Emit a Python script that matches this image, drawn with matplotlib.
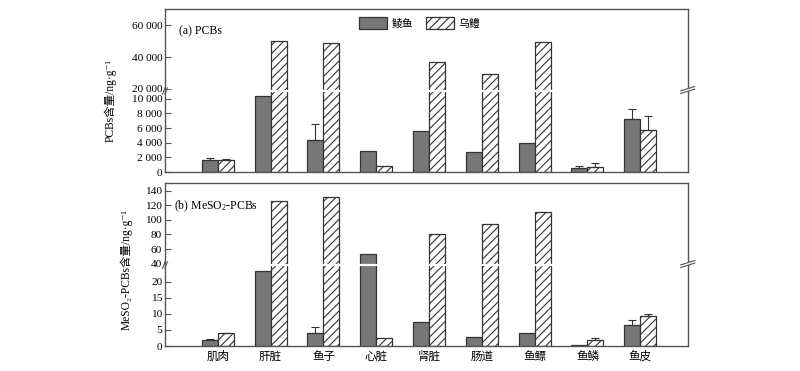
import matplotlib
matplotlib.use("Agg")
import matplotlib.pyplot as plt
from matplotlib.lines import Line2D
from matplotlib.patches import Patch
import numpy as np

plt.rcParams['font.family'] = ['Liberation Serif', 'DejaVu Serif', 'Noto Sans CJK SC']
plt.rcParams['mathtext.fontset'] = 'custom'
plt.rcParams['mathtext.rm'] = 'Liberation Serif'
plt.rcParams['mathtext.it'] = 'Liberation Serif:italic'
plt.rcParams['mathtext.bf'] = 'Liberation Serif:bold'

categories = ['肌肉', '肝脏', '鱼子', '心脏', '肾脏', '肠道', '鱼鳔', '鱼鳞', '鱼皮']
series_names = ['鲮鱼', '乌鳢']

pcb_ling = [1600, 10400, 4400, 2900, 5600, 2700, 3900, 600, 7200]
pcb_ling_err = [300, 0, 2100, 0, 0, 0, 0, 170, 1450]
pcb_wu = [1600, 50100, 49000, 770, 36600, 29000, 49300, 680, 5700]
pcb_wu_err = [200, 0, 0, 0, 0, 0, 0, 550, 1950]

meso_ling = [1.9, 23.3, 4.2, 53.7, 7.4, 2.8, 4.2, 0.3, 6.5]
meso_ling_err = [0.4, 0, 1.8, 0, 0, 0, 0, 0, 1.6]
meso_wu = [4.1, 126.3, 131.8, 2.5, 80.6, 94.3, 111.2, 2.0, 9.2]
meso_wu_err = [0.1, 0, 0, 0, 0, 0, 0, 0.4, 0.8]

pcb_ticks_lo = [0, 2000, 4000, 6000, 8000, 10000]
pcb_ticks_hi = [20000, 40000, 60000]
meso_ticks_lo = [0, 5, 10, 15, 20]
meso_ticks_hi = [40, 60, 80, 100, 120, 140]

W, H = 800, 371
fig = plt.figure(figsize=(W / 100, H / 100), dpi=100)

SPINE = '#555555'
DARK = '#777777'
EDGE = '#333333'
plt.rcParams['hatch.linewidth'] = 0.8
plt.rcParams['hatch.color'] = '#222222'

x0, x1 = 165, 687.7


def fax(top, bottom):
    return fig.add_axes([x0 / W, 1 - bottom / H, (x1 - x0) / W, (bottom - top) / H])


def fmt_thousands(v):
    return f"{int(v):,}".replace(",", " ")


bw = 0.303
xs = np.arange(len(categories))


def draw_bars(ax, a, ae, b, be):
    ax.bar(xs - bw / 2, a, bw, color=DARK, edgecolor=EDGE, linewidth=0.9, zorder=2)
    ax.bar(xs + bw / 2, b, bw, color='white', edgecolor=EDGE, linewidth=0.9,
           hatch='////', zorder=2)
    for off, v, e in ((-bw / 2, a, ae), (bw / 2, b, be)):
        idx = [i for i in range(len(v)) if e[i] > 0]
        if idx:
            ax.errorbar(xs[idx] + off, np.array(v)[idx],
                        yerr=[np.zeros(len(idx)), np.array(e)[idx]],
                        fmt='none', ecolor='#333333', elinewidth=0.8,
                        capsize=2.6, capthick=0.8, zorder=3)
    ax.set_xlim(-1.0, 8.9)


def style(ax, which):
    for s in ax.spines.values():
        s.set_color(SPINE)
        s.set_linewidth(1.0)
    if which == 'hi':
        ax.spines['bottom'].set_visible(False)
    else:
        ax.spines['top'].set_visible(False)
    ax.tick_params(axis='y', direction='in', length=4, width=0.8, color=SPINE,
                   labelsize=8.2, pad=2)
    ax.tick_params(axis='x', length=0)


def panel(top, mid, bottom, hi_lim, lo_lim, hi_ticks, lo_ticks, a, ae, b, be, thousands):
    ah = fax(top, mid)
    al = fax(mid, bottom)
    for ax in (ah, al):
        draw_bars(ax, a, ae, b, be)
    ah.set_ylim(*hi_lim)
    al.set_ylim(*lo_lim)
    ah.set_yticks(hi_ticks)
    al.set_yticks(lo_ticks)
    if thousands:
        ah.set_yticklabels([fmt_thousands(t) for t in hi_ticks])
        al.set_yticklabels([fmt_thousands(t) for t in lo_ticks])
    style(ah, 'hi')
    style(al, 'lo')
    ah.set_xticks([])
    yb = 1 - mid / H
    fig.add_artist(Line2D([(x0 + 1.5) / W, (x1 - 1.5) / W], [yb, yb], color='white',
                          linewidth=1.6, zorder=10))
    for dx in (-1.2, 1.2):
        fig.add_artist(Line2D([(x0 + dx - 1.2) / W, (x0 + dx + 1.2) / W],
                              [1 - (mid + 3.2) / H, 1 - (mid - 3.2) / H],
                              color=SPINE, linewidth=0.8, zorder=11))
    fig.add_artist(Line2D([(x1 - 5) / W, (x1 + 5) / W],
                          [1 - (mid - 1) / H, 1 - (mid - 1) / H], color='white',
                          linewidth=1.5, zorder=10.5))
    for dy in (-1.3, 1.3):
        fig.add_artist(Line2D([(x1 - 7) / W, (x1 + 7) / W],
                              [1 - (mid - 1 + dy + 2.2) / H, 1 - (mid - 1 + dy - 2.2) / H],
                              color=SPINE, linewidth=0.8, zorder=11))
    return ah, al


ah1, al1 = panel(9, 91, 172, (18550, 70300), (0, 11050), pcb_ticks_hi, pcb_ticks_lo,
                 pcb_ling, pcb_ling_err, pcb_wu, pcb_wu_err, True)
al1.set_xticks([])

ah2, al2 = panel(183, 265, 346, (38.2, 150.5), (0, 25.2), meso_ticks_hi, meso_ticks_lo,
                 meso_ling, meso_ling_err, meso_wu, meso_wu_err, False)
al2.set_xticks(xs)
al2.set_xticklabels(categories, fontsize=8.3, family=['Noto Sans CJK SC'])
al2.tick_params(axis='x', pad=3)

fig.text(179 / W, 1 - 31 / H, '(a) PCBs', fontsize=8.5, va='center', ha='left')
fig.text(174 / W, 1 - 206 / H, '(b) MeSO$_2$-PCBs', fontsize=8.5, va='center', ha='left')

fig.text(110 / W, 1 - 100 / H, 'PCBs含量/ng·g⁻¹', rotation=90, fontsize=8.3,
         va='center', ha='center')
fig.text(126 / W, 1 - 270 / H, 'MeSO₂-PCBs含量/ng·g⁻¹', rotation=90, fontsize=8.3,
         va='center', ha='center')

handles = [Patch(facecolor=DARK, edgecolor=EDGE, linewidth=0.9),
           Patch(facecolor='white', edgecolor=EDGE, linewidth=0.9, hatch='////')]
fig.legend(handles, series_names, loc='upper left', bbox_to_anchor=(359 / W, 1 - 17 / H),
           ncol=2, frameon=False, handlelength=2.6, handleheight=1.3,
           handletextpad=0.4, columnspacing=1.2, borderpad=0, borderaxespad=0,
           prop={'family': ['Noto Sans CJK SC'], 'size': 7.8})

fig.savefig('out.png', dpi=100)
